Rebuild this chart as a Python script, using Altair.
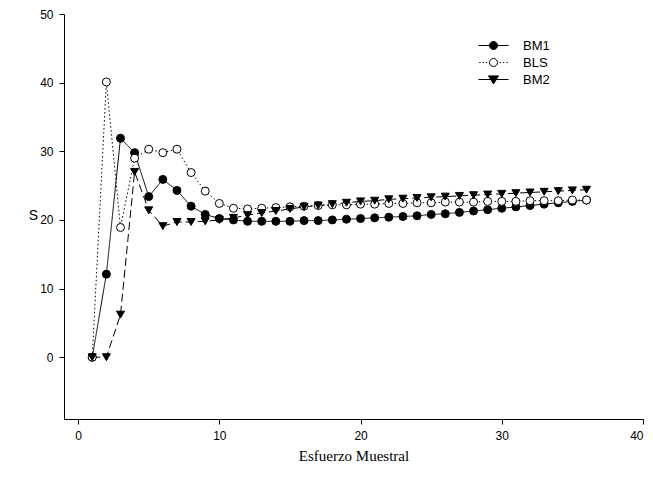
import altair as alt
import pandas as pd

effort = list(range(1, 37))
series = ["BM1", "BLS", "BM2"]
bm1 = [0, 12.1, 31.9, 29.8, 23.4, 25.9, 24.3, 22.0, 20.8, 20.2, 20.0, 19.8,
       19.8, 19.8, 19.8, 19.9, 19.9, 20.0, 20.1, 20.2, 20.3, 20.4, 20.5, 20.6,
       20.8, 20.9, 21.1, 21.3, 21.5, 21.7, 21.9, 22.1, 22.3, 22.5, 22.7, 22.9]
bls = [0, 40.1, 18.9, 29.0, 30.3, 29.8, 30.3, 26.9, 24.2, 22.4, 21.7, 21.6,
       21.7, 21.8, 21.9, 22.0, 22.1, 22.2, 22.2, 22.3, 22.3, 22.4, 22.4, 22.5,
       22.5, 22.6, 22.6, 22.6, 22.7, 22.7, 22.7, 22.8, 22.8, 22.8, 22.9, 22.9]
bm2 = [0, 0, 6.2, 27.0, 21.4, 19.1, 19.7, 19.7, 19.8, 20.0, 20.3, 20.7,
       21.0, 21.3, 21.6, 21.9, 22.1, 22.3, 22.5, 22.7, 22.8, 23.0, 23.1, 23.2,
       23.3, 23.4, 23.5, 23.6, 23.7, 23.8, 23.9, 24.0, 24.1, 24.2, 24.3, 24.4]
x_ticks = [0, 10, 20, 30, 40]
y_ticks = [0, 10, 20, 30, 40, 50]

rows = []
for name, vals in zip(series, [bm1, bls, bm2]):
    for x, v in zip(effort, vals):
        rows.append({"x": x, "S": v, "serie": name})
df = pd.DataFrame(rows)

xs = alt.Scale(domain=[-1, 40], nice=False, zero=False)
ys = alt.Scale(domain=[-9, 50], nice=False, zero=False)

x_enc = alt.X("x:Q", scale=xs, axis=alt.Axis(
    values=x_ticks, title="Esfuerzo Muestral", grid=False,
    domainColor="black", tickColor="black", tickSize=5,
    labelFont="Liberation Sans", labelFontSize=12, labelColor="black", labelPadding=6,
    titleFont="Liberation Serif", titleFontSize=15, titleFontWeight="normal",
    titleColor="black", titlePadding=7))
y_enc = alt.Y("S:Q", scale=ys, axis=alt.Axis(
    values=y_ticks, title="S", grid=False,
    domainColor="black", tickColor="black", tickSize=5,
    labelFont="Liberation Sans", labelFontSize=12, labelColor="black", labelPadding=6,
    titleFont="Liberation Sans", titleFontSize=14, titleFontWeight="normal",
    titleColor="black", titleAngle=0, titleX=-31, titleY=201,
    titleAlign="center", titleBaseline="middle"))

base = alt.Chart(df)

lines = base.mark_line(color="black", strokeWidth=1).encode(
    x=x_enc, y=y_enc,
    strokeDash=alt.StrokeDash("serie:N", sort=series,
        scale=alt.Scale(domain=series, range=[[1, 0], [1.5, 2.5], [8, 4]]),
        legend=None),
)

points = base.mark_point(filled=True, opacity=1, strokeWidth=1).encode(
    x=x_enc, y=y_enc,
    shape=alt.Shape("serie:N", sort=series,
        scale=alt.Scale(domain=series, range=["circle", "circle", "triangle-down"]),
        legend=None),
    fill=alt.Fill("serie:N", sort=series,
        scale=alt.Scale(domain=series, range=["black", "white", "black"]),
        legend=None),
    stroke=alt.value("black"),
    size=alt.value(64),
)

# legend symbols: unit = 5 px (symbol size 100)
p_bm1 = "M-3,0H3M0.8,0A0.8,0.8 0 1,1 -0.8,0A0.8,0.8 0 1,1 0.8,0Z"
p_bls = ("M-2.85,0H-2.6M-2.15,0H-1.9M-1.5,0H-1.25"
         "M1.25,0H1.5M1.9,0H2.15M2.6,0H2.85"
         "M0.8,0A0.8,0.8 0 1,1 -0.8,0A0.8,0.8 0 1,1 0.8,0Z")
p_bm2 = "M-3,0H3M-1,-0.72L1,-0.72L0,0.9Z"

leg = alt.Legend(title=None, orient="none", legendX=423, legendY=25,
                 symbolSize=100, symbolStrokeWidth=1, symbolStrokeColor="black",
                 labelFont="Liberation Sans", labelFontSize=13, labelColor="black",
                 labelOffset=23, rowPadding=3, padding=0)

legend_layer = base.transform_filter("false").mark_point(
    filled=False, opacity=1, strokeWidth=1, color="black").encode(
    shape=alt.Shape("serie:N", sort=series,
        scale=alt.Scale(domain=series, range=[p_bm1, p_bls, p_bm2]), legend=leg),
    fill=alt.Fill("serie:N", sort=series,
        scale=alt.Scale(domain=series, range=["black", "white", "black"]), legend=leg),
    stroke=alt.Stroke("serie:N", sort=series,
        scale=alt.Scale(domain=series, range=["black", "black", "black"]), legend=leg),
)

chart = alt.layer(lines, points, legend_layer).resolve_scale(
    shape="independent", fill="independent", stroke="independent"
).properties(
    width=579, height=405,
    autosize=alt.AutoSizeParams(type="none"),
    padding={"left": 56, "top": 6, "right": 2, "bottom": 64},
    background="white",
).configure_view(stroke=None)

chart.save("out.html", embed_options={"renderer": "svg", "actions": False})
